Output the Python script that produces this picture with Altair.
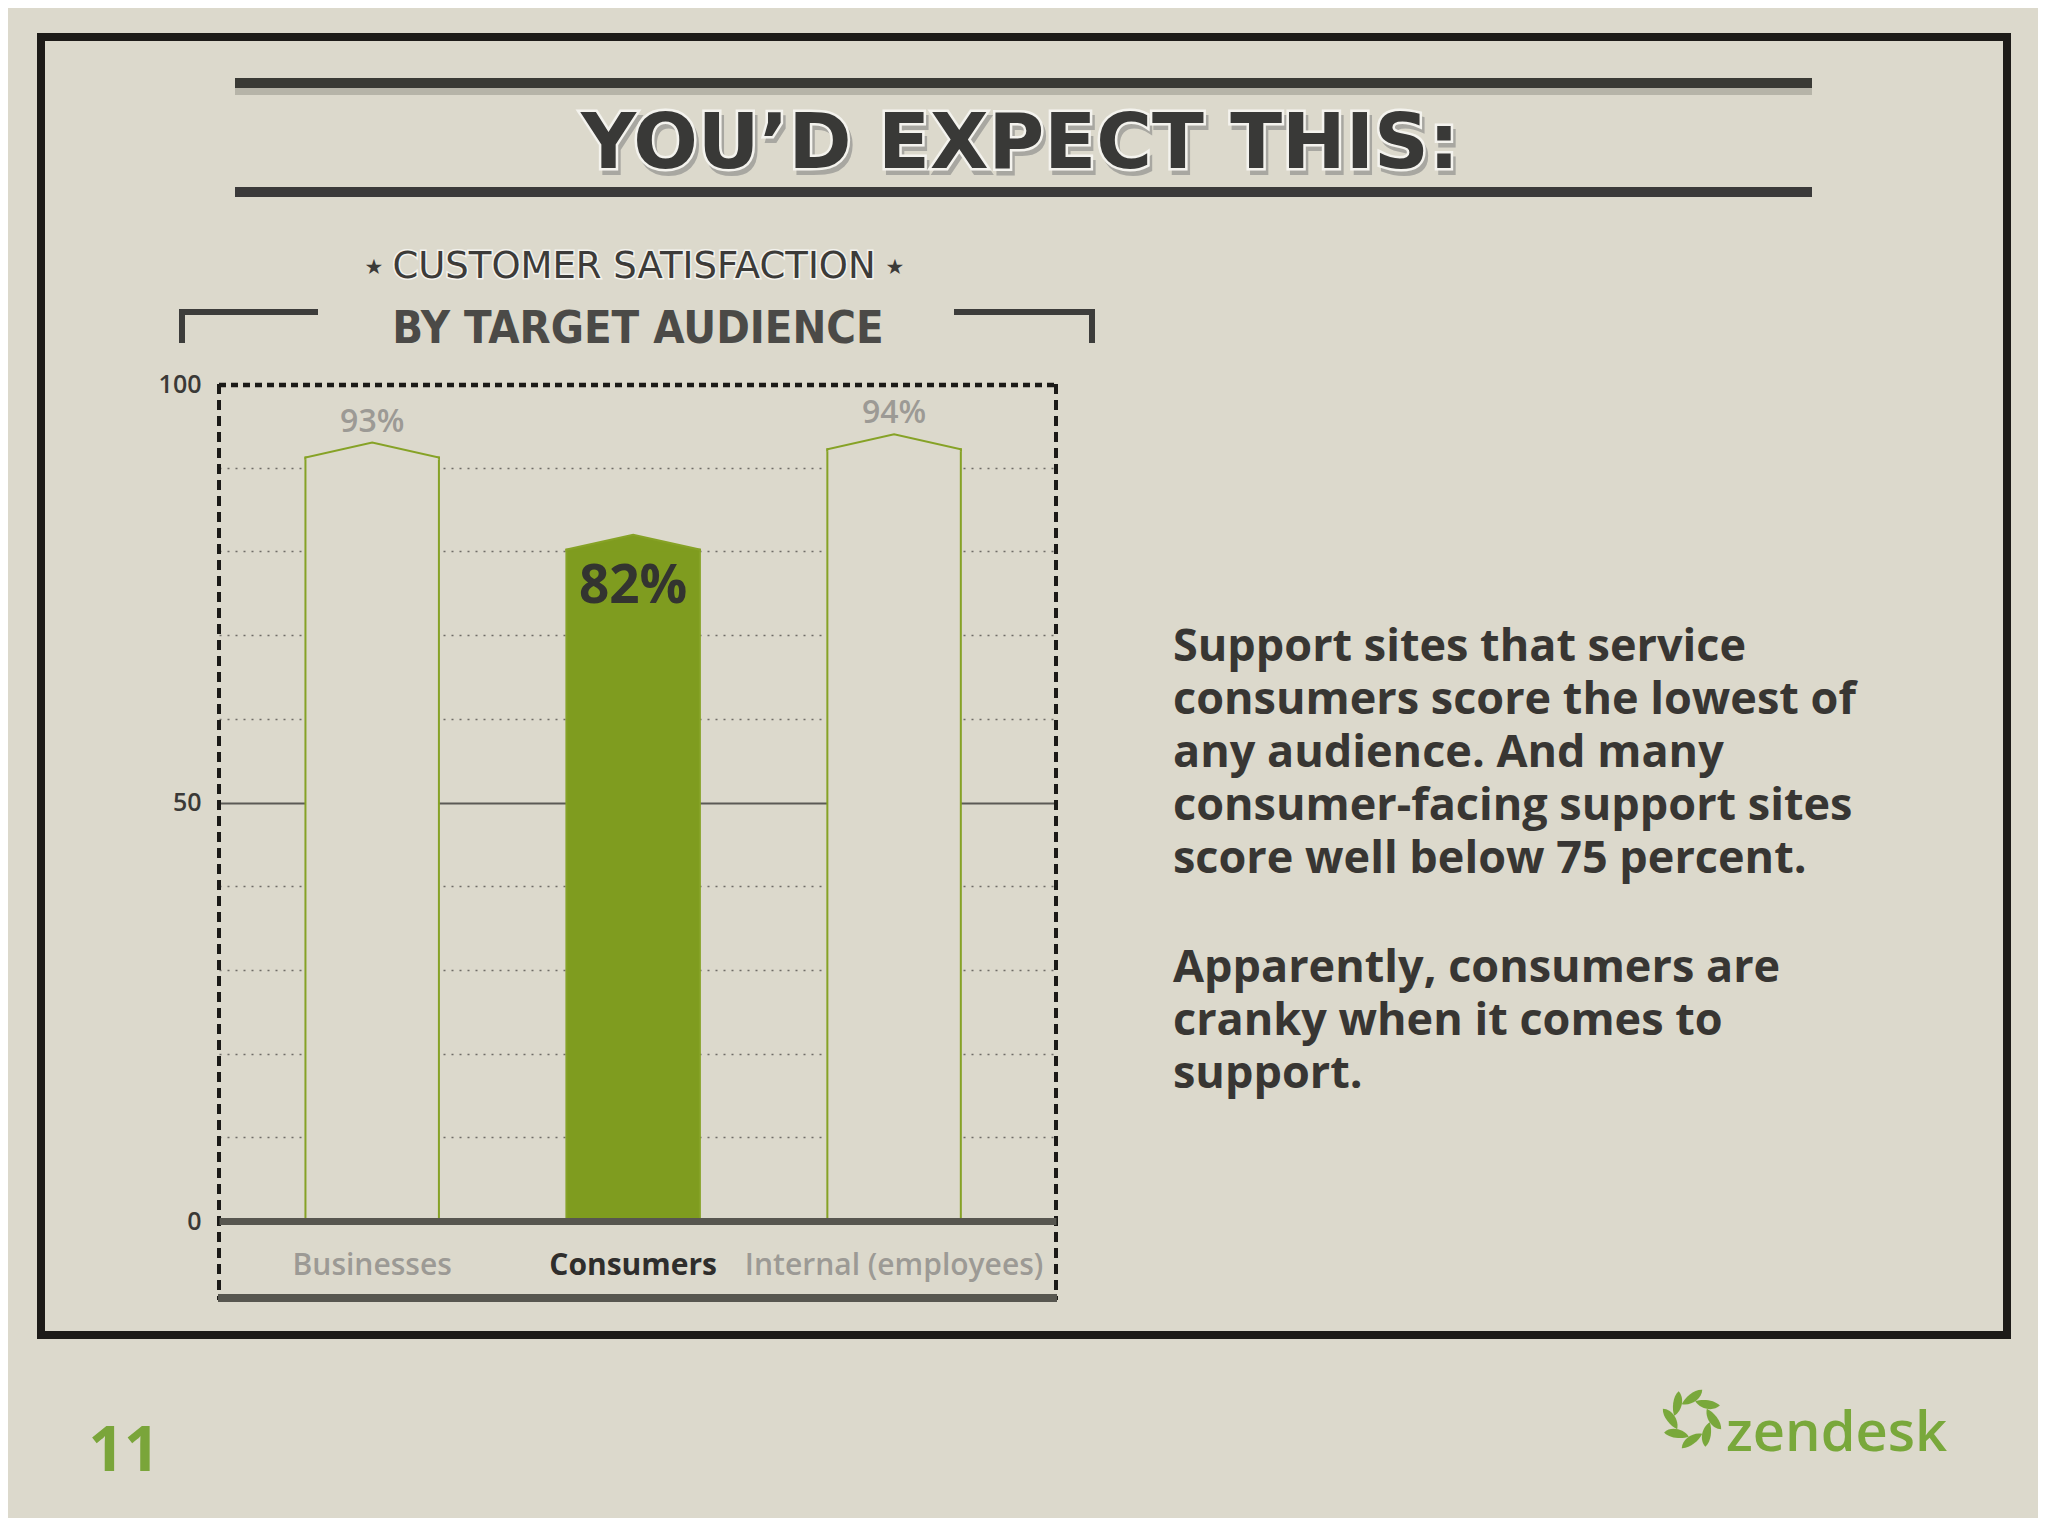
import math
import altair as alt
import pandas as pd

# ---------------- data ----------------
CATEGORIES = ["Businesses", "Consumers", "Internal (employees)"]
VALUES = [93, 82, 94]
HIGHLIGHT = [False, True, False]
Y_LABEL_TICKS = [0, 50, 100]
Y_GRID_TICKS = [0, 10, 20, 30, 40, 50, 60, 70, 80, 90, 100]

TITLE = "YOU\u2019D EXPECT THIS:"
SUB1 = "CUSTOMER SATISFACTION"
SUB2 = "BY TARGET AUDIENCE"
PARA1 = ["Support sites that service",
         "consumers score the lowest of",
         "any audience. And many",
         "consumer-facing support sites",
         "score well below 75 percent."]
PARA2 = ["Apparently, consumers are",
         "cranky when it comes to",
         "support."]
PAGE_NO = "11"
BRAND = "zendesk"

# ---------------- style ----------------
BG = "#dcd9cc"
FRAME = "#1d1b18"
DARK = "#3a3937"
GREEN_FILL = "#7f9c1f"
GREEN_LINE = "#86a226"
GRAY_LBL = "#9c9a95"
ZGREEN = "#79a83b"
FONT = "Open Sans"
NARROW = "'Liberation Sans Narrow', 'DejaVu Sans Condensed', 'Roboto Condensed', Roboto, sans-serif"

# plot area (page pixel coordinates of its top-left corner) and size
OX, OY = 219, 384
W, H = 837, 837
CANVAS_W, CANVAS_H = 2030, 1510

BAND_PI, BAND_PO, BAND_ALIGN = 0.4885, 0.348, 0.476
STEP = W / (len(CATEGORIES) - BAND_PI + 2 * BAND_PO)
BANDW = STEP * (1 - BAND_PI)
SHOULDER = 15  # px drop from peak to shoulder of the bar tops
Y_DOMAIN = [0, 100]

df = pd.DataFrame({
    "cat": CATEGORIES,
    "value": VALUES,
    "hl": HIGHLIGHT,
    "label": [f"{v}%" for v in VALUES],
    "fill": [GREEN_FILL if h else BG for h in HIGHLIGHT],
})

ONE = alt.InlineData(values=[{"k": 0}])


def rule(x1, y1, x2, y2, color, width, dash=None, cap="butt"):
    kw = dict(color=color, strokeWidth=width, strokeCap=cap)
    if dash:
        kw["strokeDash"] = dash
    return alt.Chart(ONE).mark_rule(**kw).encode(
        x=alt.value(x1 - OX), y=alt.value(y1 - OY),
        x2=alt.value(x2 - OX), y2=alt.value(y2 - OY))


def txt(s, x, y, size, color, font=FONT, weight="normal", align="left",
        baseline="alphabetic", **kw):
    return alt.Chart(ONE).mark_text(
        text=s, font=font, fontSize=size, fontWeight=weight, color=color,
        align=align, baseline=baseline, **kw).encode(
        x=alt.value(x - OX), y=alt.value(y - OY))


# ---------------- chart ----------------
x_enc = alt.X(
    "cat:N", sort=CATEGORIES,
    scale=alt.Scale(paddingInner=BAND_PI, paddingOuter=BAND_PO, align=BAND_ALIGN),
    axis=alt.Axis(
        title=None, labelAngle=0, ticks=False, tickSize=0,
        domain=True, domainColor="#57564f", domainWidth=7,
        labelFont=FONT, labelFontSize=30, labelPadding=53, labelLimit=600,
        labelBaseline="alphabetic",
        labelColor=alt.condition("datum.value == 'Consumers'", alt.value("#2f2e2c"), alt.value(GRAY_LBL)),
        labelFontWeight=alt.condition("datum.value == 'Consumers'", alt.value("bold"), alt.value(600)),
        zindex=1,
    ),
)


def y_enc(field):
    return alt.Y(
        field,
        scale=alt.Scale(domain=Y_DOMAIN, nice=False, zero=True),
        axis=alt.Axis(
            title=None, values=Y_GRID_TICKS, domain=False, ticks=False, tickSize=0,
            labelExpr="indexof([%s], datum.value) >= 0 ? datum.label : ''"
                      % ",".join(str(v) for v in Y_LABEL_TICKS),
            labelFont=FONT, labelFontSize=25, labelFontWeight=600, labelColor=DARK,
            labelPadding=18,
            grid=True,
            gridColor=alt.condition("datum.value == 50", alt.value("#5b5a55"), alt.value("#6f6d67")),
            gridDash=alt.condition("datum.value == 50", alt.value([]), alt.value([2, 6])),
            gridWidth=alt.condition("datum.value == 50", alt.value(2), alt.value(1.5)),
            gridOpacity=alt.condition("datum.value == 0 || datum.value == 100", alt.value(0), alt.value(1)),
        ),
    )


base = alt.Chart(df).encode(x=x_enc, y=y_enc("value:Q"))

# bar body: from 0 up to the shoulder of the roof (SHOULDER px under the value)
shoulder_units = SHOULDER * (Y_DOMAIN[1] - Y_DOMAIN[0]) / H
bars = alt.Chart(df).transform_calculate(
    top="datum.value - %f" % shoulder_units
).mark_bar(stroke=GREEN_LINE, strokeWidth=2).encode(
    x=x_enc, y=y_enc("top:Q"), y2=alt.datum(0),
    fill=alt.Fill("fill:N", scale=None))

k = SHOULDER / (BANDW / 2)
ROOF = "M-1,%.4fL-1,%.4fL0,0L1,%.4fL1,%.4f" % (k + 0.03, k, k, k + 0.03)
roofs = base.mark_point(shape=ROOF, size=BANDW ** 2, filled=True, opacity=1,
                        stroke=GREEN_LINE, strokeWidth=2).encode(
    fill=alt.Fill("fill:N", scale=None))

lbl_out = base.transform_filter("!datum.hl").mark_text(
    dy=-11, baseline="alphabetic", font=FONT, fontSize=32, fontWeight=600,
    color=GRAY_LBL).encode(text="label:N")
lbl_in = base.transform_filter("datum.hl").mark_text(
    dy=68, baseline="alphabetic", font=FONT, fontSize=53, fontWeight="bold",
    color="#333430").encode(text="label:N")

# dashed chart box
box = [
    rule(OX, OY + 1, OX + W, OY + 1, "#1b1a17", 4.5, [7, 5]),
    rule(OX, OY, OX, 1300, "#1b1a17", 4, [10, 6]),
    rule(OX + W, OY, OX + W, 1300, "#1b1a17", 4, [10, 6]),
    rule(OX - 1, 1298, OX + W + 1, 1298, "#57564f", 8),
]

# outer frame
frame = alt.Chart(ONE).mark_rect(fillOpacity=0, stroke=FRAME, strokeWidth=8).encode(
    x=alt.value(41 - OX), x2=alt.value(2007 - OX),
    y=alt.value(37 - OY), y2=alt.value(1335 - OY))

# headline with lines
head = [
    rule(235, 83, 1812, 83, "#3a3a35", 10),
    rule(235, 91.5, 1812, 91.5, "#b6b4a8", 7),
    rule(235, 192, 1812, 192, "#3b3a3a", 10),
    txt(TITLE, 1023, 173, 76, "#a8a7a1", font="DejaVu Sans", weight="bold",
        align="center", stroke="#a8a7a1", strokeWidth=4),
    txt(TITLE, 1020, 168, 76, "#ffffff", font="DejaVu Sans", weight="bold",
        align="center", stroke="#f4f3ee", strokeWidth=5),
    txt(TITLE, 1020, 168, 76, "#393937", font="DejaVu Sans", weight="bold",
        align="center"),
]

# chart title block
sub = [
    txt(SUB1, 634, 278, 37, "#ffffff", font="DejaVu Sans", align="center",
        stroke="#f4f3ee", strokeWidth=3),
    txt(SUB1, 634, 278, 37, "#3c3b39", font="DejaVu Sans", align="center"),
    txt("\u2605", 374, 268, 21, "#3c3b39", font="DejaVu Sans", align="center", baseline="middle"),
    txt("\u2605", 895, 268, 21, "#3c3b39", font="DejaVu Sans", align="center", baseline="middle"),
    txt(SUB2, 638, 343, 45, "#4b4a47", font=NARROW, weight="bold", align="center"),
    rule(179, 312, 318, 312, "#3d3d3b", 6),
    rule(182, 309, 182, 343, "#3d3d3b", 6),
    rule(954, 312, 1095, 312, "#3d3d3b", 6),
    rule(1092, 309, 1092, 343, "#3d3d3b", 6),
]

# commentary text
body = [
    txt(PARA1, 1173, 661, 45, "#383633", weight="bold", lineHeight=53),
    txt(PARA2, 1173, 982, 45, "#383633", weight="bold", lineHeight=53),
]

# footer: page number + logo (ring of petals around a heart-shaped hole)
PETAL_ANGLES = [0, 45, 90, 135, 180, 225, 270, 315]
LOGO_CX, LOGO_CY, LOGO_R = 1692, 1419, 22
petals = pd.DataFrame({
    "px": [LOGO_CX - OX + LOGO_R * math.sin(math.radians(a)) for a in PETAL_ANGLES],
    "py": [LOGO_CY - OY - LOGO_R * math.cos(math.radians(a)) for a in PETAL_ANGLES],
    "ang": [(a + 55) % 360 for a in PETAL_ANGLES],
})
PETAL = "M0,-1C0.6,-0.55 0.55,0.5 0,1C-0.3,0.5 -0.4,-0.5 0,-1Z"
logo_icon = alt.Chart(petals).mark_point(
    shape=PETAL, size=25 ** 2, filled=True, opacity=1, color=ZGREEN).encode(
    x=alt.X("px:Q", scale=None), y=alt.Y("py:Q", scale=None),
    angle=alt.Angle("ang:Q", scale=None))

foot = [
    txt(PAGE_NO, 124, 1471, 62, "#7aa53a", weight="bold", align="center"),
    txt(BRAND, 1726, 1451, 56, ZGREEN, weight=600),
]

chart = alt.layer(
    frame, *head, *sub,
    bars, roofs, lbl_out, lbl_in, *box,
    *body, logo_icon, *foot,
).properties(
    width=W, height=H,
    autosize=alt.AutoSizeParams(type="none"),
    padding={"left": OX - 8, "top": OY - 8,
             "right": CANVAS_W - (OX - 8) - W,
             "bottom": CANVAS_H - (OY - 8) - H},
    background=BG,
).configure_view(strokeWidth=0)

chart.save("out.html", embed_options={"renderer": "svg", "actions": False})
